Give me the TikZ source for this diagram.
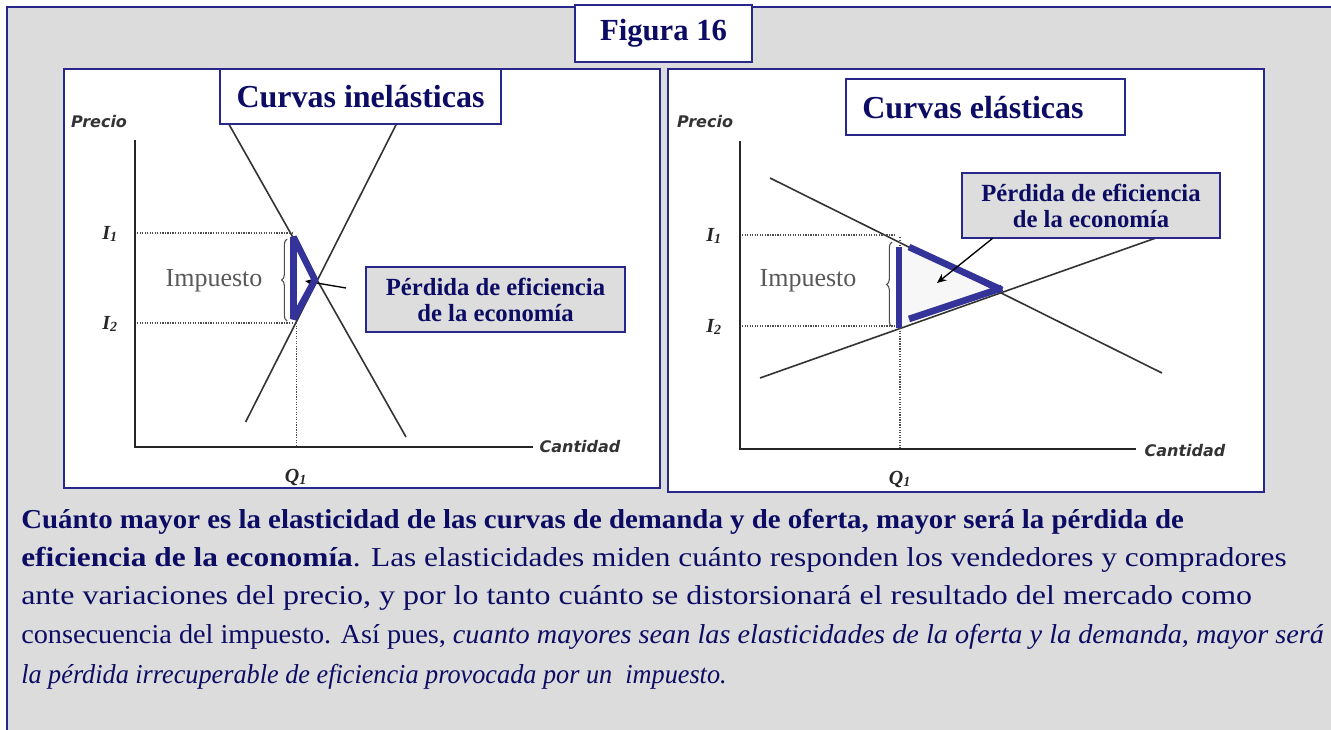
\documentclass[tikz,border=0pt]{standalone}
\usepackage{fontspec}
\setmainfont{Liberation Serif}
\newfontfamily\labfont{DejaVu Sans}
\usetikzlibrary{arrows.meta,decorations.pathreplacing}
\definecolor{bggray}{HTML}{DCDCDC}
\definecolor{frameblue}{RGB}{40,40,140}
\definecolor{navy}{RGB}{12,12,100}
\definecolor{triblue}{RGB}{51,51,153}
\definecolor{boxgray}{HTML}{DDDDDD}
\definecolor{curve}{HTML}{333333}
\tikzset{
  panel/.style={draw=frameblue, line width=1pt, fill=white},
  titlebox/.style={draw=frameblue, line width=1pt, fill=white, text=navy, font=\fontsize{24}{27}\selectfont\bfseries, inner sep=0pt},
  perdbox/.style={draw=frameblue, line width=1pt, fill=boxgray, text=navy, align=center, font=\fontsize{18.5}{19.5}\selectfont\bfseries, inner sep=0pt},
  axis/.style={line width=2.2pt, black!85},
  curveline/.style={line width=1.2pt, curve},
  guide/.style={densely dotted, line width=0.9pt, black!70},
  tri/.style={line width=5pt, triblue},
  axlab/.style={font=\labfont\fontsize{12}{14}\selectfont\bfseries\itshape, text=black!80, inner sep=0pt},
  ticklab/.style={font=\fontsize{15}{17}\selectfont\bfseries\itshape, text=black!85, inner sep=0pt},
  imp/.style={font=\fontsize{19.5}{22}\selectfont, text=black!65, inner sep=0pt},
  bodyline/.style={anchor=base west, inner sep=0pt, text=navy, font=\fontsize{20.5}{24}\selectfont},
  brc/.style={decorate, decoration={brace, amplitude=4pt}, line width=0.8pt, black!70},
  pointer/.style={line width=1pt, black, -{Stealth[length=7pt,width=6pt]}}
}
\begin{document}
\begin{tikzpicture}[x=0.75pt,y=-0.75pt]
\useasboundingbox (0,0) rectangle (1331,729);
% background and frame
\fill[white] (0,0) rectangle (1331,729);
\filldraw[fill=bggray, draw=frameblue, line width=1.2pt] (7,7) rectangle (1345,745);

% ===== left panel =====
\draw[panel] (64,69) rectangle (660,488);
\draw[curveline] (222,112) -- (406,437);
\draw[curveline] (245.6,422) -- (401,115);
\draw[guide] (137,233) -- (293,233);
\draw[guide] (137,323) -- (293,323);
\draw[guide] (296.5,323) -- (296.5,447);
\draw[axis] (135,140) -- (135,447) -- (533,447);
\node[axlab] (pL) at (99,122) {Precio};
\node[axlab] (cL) at (580,447) {Cantidad};
\node[ticklab] (i1L) at (110,234) {I\textsubscript{1}};
\node[ticklab] (i2L) at (110,324) {I\textsubscript{2}};
\node[ticklab] (q1L) at (296,477) {Q\textsubscript{1}};
\node[imp] (impL) at (214,281) {Impuesto};
\draw[brc] (287,321) -- (287,239);
\coordinate (aL) at (305,281);
\node[perdbox, minimum width=194.25pt, minimum height=48.75pt] (perdL) at (495.5,299.5) {Pérdida de eficiencia\\de la economía};
\draw[pointer] (346,288) -- (aL);
\draw[tri, line join=bevel] (293.5,237) -- (315,280) -- (293.5,319) -- cycle;
\node[titlebox, minimum width=210.75pt, minimum height=41.25pt] (tL) at (360.5,96.5) {Curvas inelásticas};

% ===== right panel =====
\draw[panel] (668,69) rectangle (1264,492);
\fill[black!3] (899,247) -- (1000,290) -- (899,326) -- cycle;
\draw[curveline] (770,178) -- (1162,373);
\draw[curveline] (760,378) -- (1170,233);
\draw[guide] (742,235) -- (895,235);
\draw[guide] (742,326) -- (898,326);
\draw[guide] (900,237) -- (900,449);
\draw[axis] (740,141) -- (740,449) -- (1136,449);
\node[axlab] (pR) at (705,122) {Precio};
\node[axlab] (cR) at (1185,451) {Cantidad};
\node[ticklab] (i1R) at (714,236) {I\textsubscript{1}};
\node[ticklab] (i2R) at (714,327) {I\textsubscript{2}};
\node[ticklab] (q1R) at (900,479) {Q\textsubscript{1}};
\node[imp] (impR) at (808,281) {Impuesto};
\draw[brc] (892,327) -- (892,242);
\draw[tri] (899,247) -- (899,328);
\draw[tri] (909,247) -- (1002,290);
\draw[tri] (909,319) -- (1002,288);
\node[perdbox, minimum width=193.5pt, minimum height=48.75pt] (perdR) at (1091,205.5) {Pérdida de eficiencia\\de la economía};
\coordinate (aR) at (937,283);
\draw[pointer] (993,238) -- (aR);
\node[titlebox, minimum width=209.25pt, minimum height=42pt] (tR) at (985.5,107) {};
\node[anchor=west, inner sep=0pt, text=navy, font=\fontsize{24}{27}\selectfont\bfseries] (tRt) at (862,108) {Curvas elásticas};

% ===== figure title =====
\node[titlebox, minimum width=132.75pt, minimum height=42.75pt, font=\fontsize{23}{26}\selectfont\bfseries] (fig) at (663.5,33.5) {Figura 16};

% ===== body text =====
\node[bodyline] (l1) at (21,528) {\resizebox{872pt}{\height}{\bfseries Cuánto mayor es la elasticidad de las curvas de demanda y de oferta, mayor será la pérdida de}};
\node[bodyline] (l2) at (21,566) {\resizebox{949pt}{\height}{\textbf{eficiencia de la economía}. Las elasticidades miden cuánto responden los vendedores y compradores}};
\node[bodyline] (l3) at (21,604) {\resizebox{923pt}{\height}{ante variaciones del precio, y por lo tanto cuánto se distorsionará el resultado del mercado como}};
\node[bodyline] (l4) at (21,643) {\resizebox{977pt}{\height}{consecuencia del impuesto. Así pues, \textit{cuanto mayores sean las elasticidades de la oferta y la demanda, mayor será}}};
\node[bodyline] (l5) at (21,683) {\resizebox{529pt}{\height}{\itshape la pérdida irrecuperable de eficiencia provocada por un \ impuesto.}};
\end{tikzpicture}
\end{document}
